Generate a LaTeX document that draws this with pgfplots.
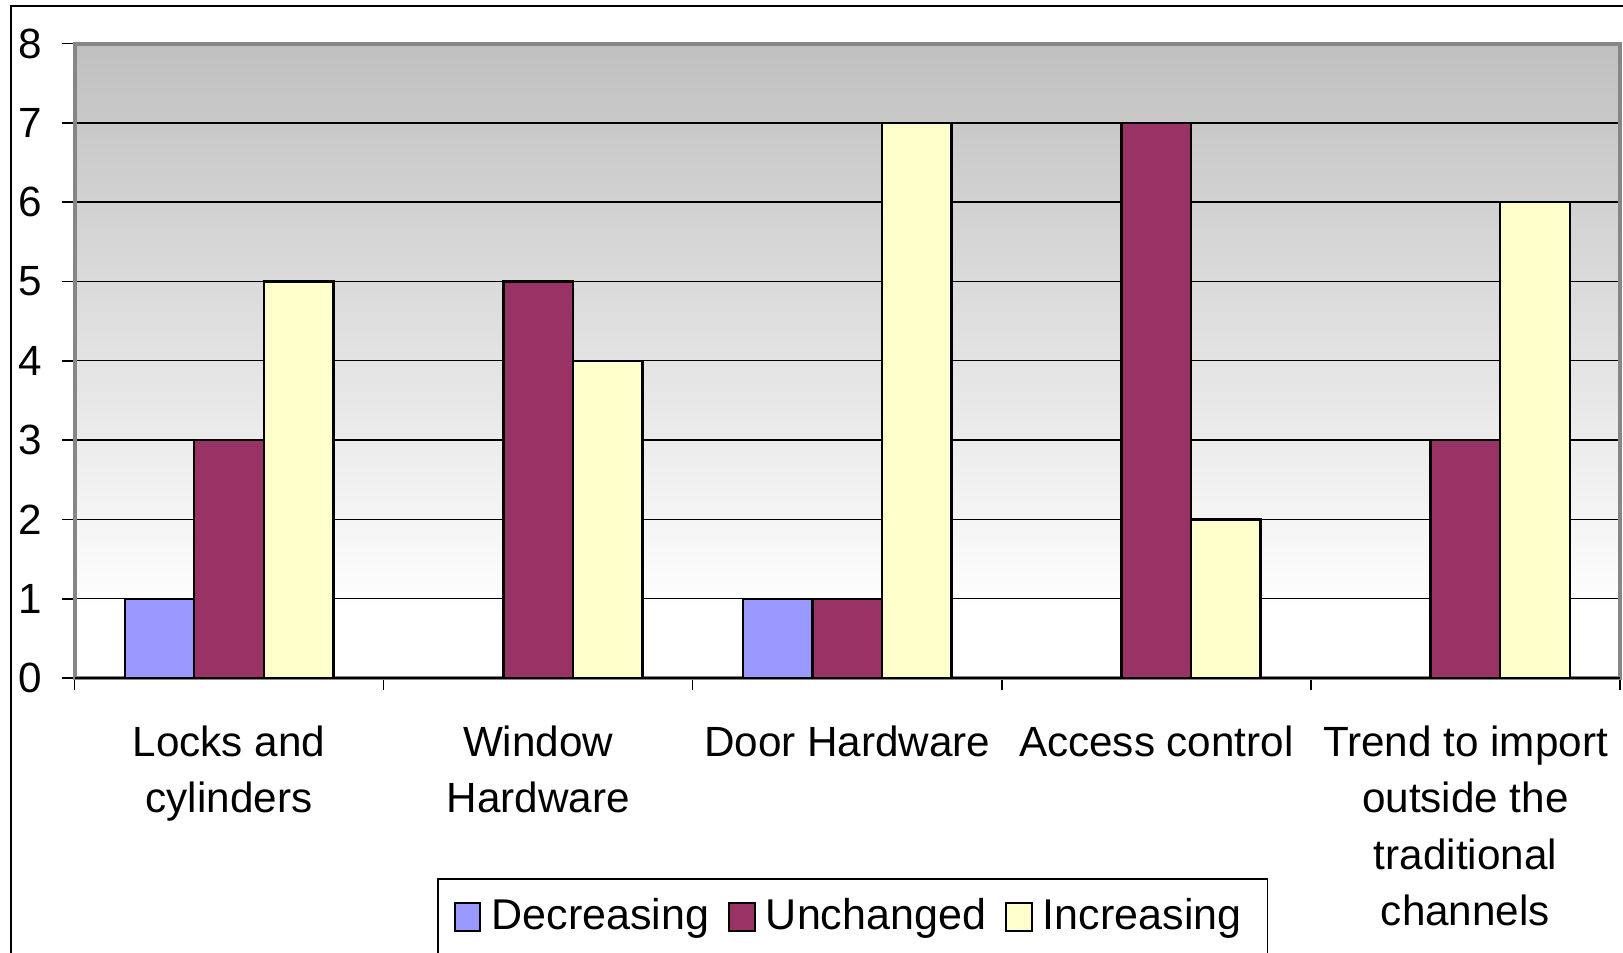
\documentclass[border=0pt]{standalone}
\usepackage{pgfplots}
\usepackage{pgfplotstable}
\pgfplotsset{compat=1.18}
\usepackage{fontspec}
\setmainfont{Liberation Sans}

\definecolor{cDec}{HTML}{9999FF}
\definecolor{cUnc}{HTML}{993366}
\definecolor{cInc}{HTML}{FFFFCC}
\definecolor{bgtop}{HTML}{C0C0C0}
\definecolor{edge}{HTML}{868686}

% plot area: grey at the top, white below about y=1
\pgfdeclareverticalshading{plotbg}{100bp}{color(0bp)=(white); color(25bp)=(white); color(30bp)=(white); color(75bp)=(bgtop); color(100bp)=(bgtop)}

\newcommand{\lf}{\fontsize{10.6}{14.15}\selectfont}
\newcommand{\legf}{\fontsize{10.8}{13}\selectfont}

\pgfplotsset{
  sqlegend/.style={legend image code/.code={\draw[##1,line width=0.5bp] (0bp,-3.3bp) rectangle (6.4bp,3.6bp);}},
}

% 0 = Locks and cylinders, 1 = Window Hardware, 2 = Door Hardware,
% 3 = Access control, 4 = Trend to import ...
\pgfplotstableread{
x y
0 1
2 1
}\decreasing
\pgfplotstableread{
x y
0 3
1 5
2 1
3 7
4 3
}\unchanged
\pgfplotstableread{
x y
0 5
1 4
2 7
3 2
4 6
}\increasing

\begin{document}
\begin{tikzpicture}
\useasboundingbox (0,0) rectangle (405.75bp,-238.25bp);
\draw[line width=0.4bp] (2.75bp,-260bp) -- (2.75bp,-1.5bp) -- (430bp,-1.5bp);
\begin{axis}[
    name=ax,
    at={(18.625bp,-169.5bp)}, anchor=south west,
    scale only axis, width=386.375bp, height=158.625bp,
    xmin=-0.5, xmax=4.5, ymin=0, ymax=8,
    ybar, bar width=0.225,
    xtick={-0.5,0.5,...,4.5}, xticklabels={},
    extra x ticks={0,1,2,3,4},
    extra x tick labels={Locks and\\cylinders, Window\\Hardware, Door Hardware, Access control, Trend to import\\outside the\\traditional\\channels},
    extra x tick style={major tick length=0pt, tick style={draw=none}},
    xticklabel style={font=\lf, align=center, anchor=north, yshift=-8.4bp},
    ytick={0,...,8},
    yticklabel style={font=\lf, xshift=-1.4bp},
    /pgf/number format/assume math mode=true,
    tick pos=left,
    tick align=outside, major tick length=3.1bp,
    tick style={black, line width=0.4bp},
    ymajorgrids, grid style={black, line width=0.35bp},
    axis line style={draw=edge, line width=1bp},
    axis background/.style={shading=plotbg},
    legend columns=-1,
    legend style={at={(0.2346,-0.3152)}, anchor=north west, draw=black,
      line width=0.4bp, font=\legf, inner xsep=4bp, inner ysep=3bp,
      nodes={inner xsep=2.5bp},
      /tikz/every even column/.append style={column sep=2.3bp}},
]
\addplot[fill=cDec, draw=black, line width=0.6bp, bar shift=-0.225, sqlegend] table[x=x,y=y] {\decreasing};
\addplot[fill=cUnc, draw=black, line width=0.6bp, bar shift=0, sqlegend] table[x=x,y=y] {\unchanged};
\addplot[fill=cInc, draw=black, line width=0.6bp, bar shift=0.225, sqlegend] table[x=x,y=y] {\increasing};
\legend{Decreasing, Unchanged, Increasing}
\end{axis}
\draw[black, line width=0.5bp] (ax.south west) -- (ax.south east);
\end{tikzpicture}
\end{document}
